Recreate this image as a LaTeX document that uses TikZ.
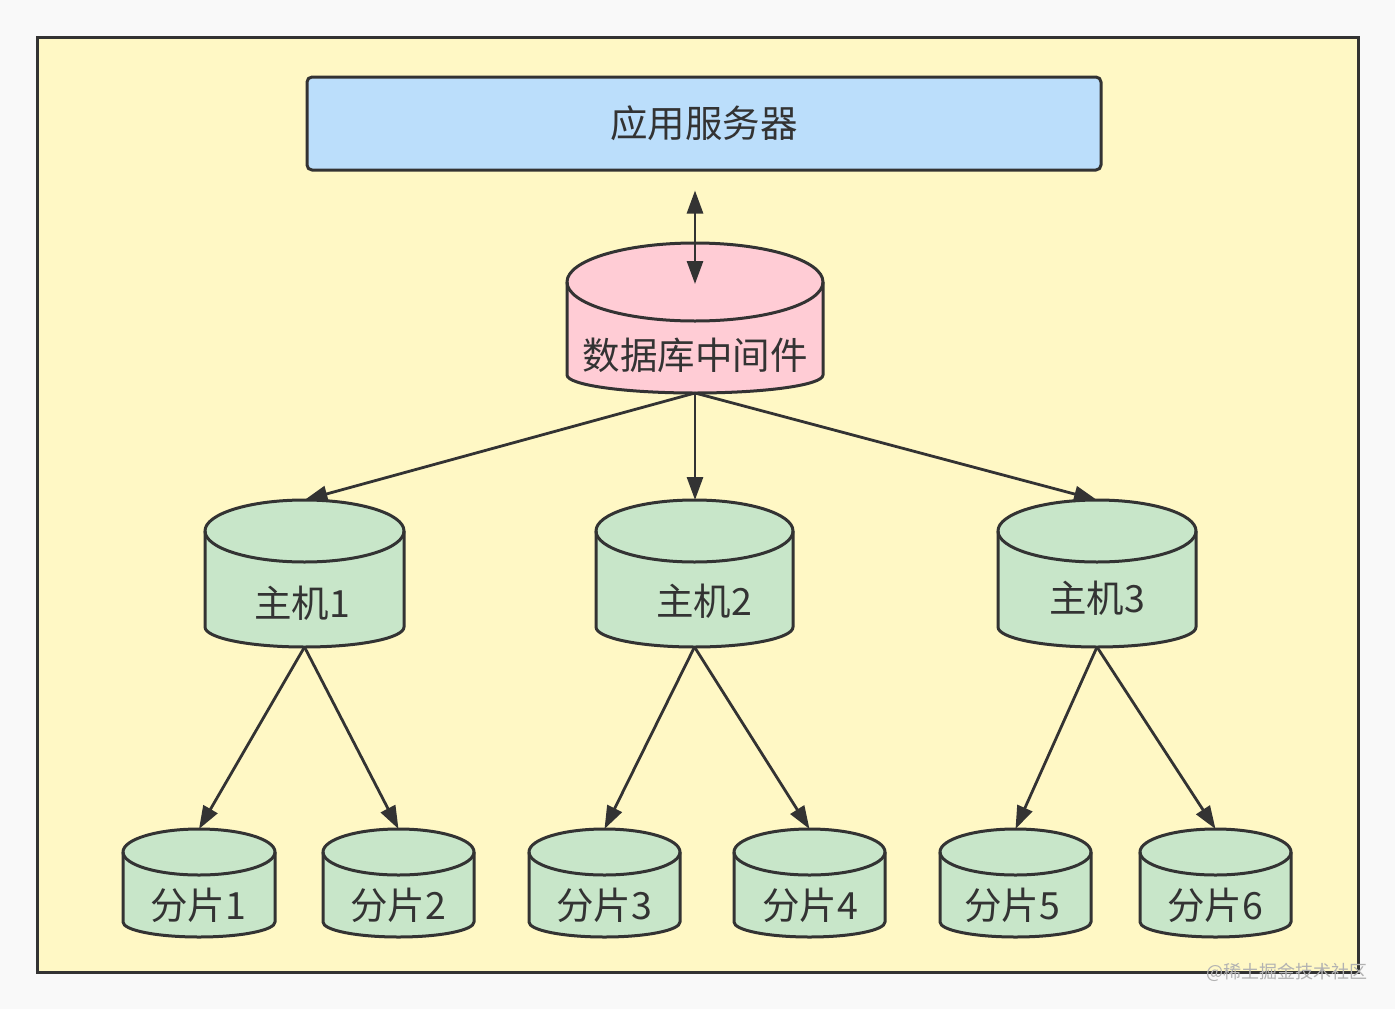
\documentclass[tikz,border=0pt]{standalone}
\usepackage{fontspec}
\setmainfont{Noto Sans CJK SC}
\usetikzlibrary{arrows.meta}
\definecolor{bgc}{HTML}{F9F9F9}
\definecolor{yel}{HTML}{FFF8C5}
\definecolor{blu}{HTML}{BBDEFB}
\definecolor{pnk}{HTML}{FFCCD5}
\definecolor{grn}{HTML}{C8E6C9}
\definecolor{ink}{HTML}{333333}
\tikzset{
  outline/.style={draw=ink, line width=3pt, line join=round},
  arr/.style={draw=ink, line width=2.8pt, -{Triangle[length=23pt,width=16pt]}},
  darr/.style={draw=ink, line width=2.8pt, {Triangle[length=23pt,width=16pt]}-{Triangle[length=23pt,width=16pt]}},
  lbl/.style={text=ink, font=\fontsize{37.5}{40}\selectfont, inner sep=0pt},
  wm/.style={text=black!30, font=\fontsize{18}{20}\selectfont, inner sep=0pt}
}
\newcommand{\dbcyl}[8]{%
  \pgfmathsetmacro\cxx{(#2+#3)/2}%
  \pgfmathsetmacro\rxx{(#3-#2)/2}%
  \pgfmathsetmacro\yct{#4+#6}%
  \pgfmathsetmacro\ycb{#5-#7}%
  \draw[outline, fill=#8] (#2,\yct) arc[start angle=180, end angle=0, x radius=\rxx pt, y radius=#6 pt]
     -- (#3,\ycb) arc[start angle=0, end angle=-180, x radius=\rxx pt, y radius=#7 pt] -- cycle;
  \draw[outline] (#2,\yct) arc[start angle=180, end angle=360, x radius=\rxx pt, y radius=#6 pt];
  \coordinate (#1t) at (\cxx,#4);
  \coordinate (#1b) at (\cxx,#5);
}
\begin{document}
\begin{tikzpicture}[x=1pt, y=-1pt]
\useasboundingbox (0,0) rectangle (1395,1009);
\fill[bgc] (0,0) rectangle (1395,1009);
\draw[outline, fill=yel, line join=miter] (37,37) rectangle (1358,972);
\node[outline, fill=blu, rounded corners=5pt, minimum width=794pt, minimum height=93pt, inner sep=0pt, lbl] (app) at (704,123.5) {应用服务器};

\dbcyl{mw}{567}{823}{243}{393}{39}{18}{pnk}
\node[lbl] (mwl) at (695,355) {数据库中间件};

\dbcyl{ha}{205}{404}{500}{647}{31}{20}{grn}
\dbcyl{hb}{596}{793}{500}{647}{31}{20}{grn}
\dbcyl{hc}{998}{1196}{500}{647}{31}{20}{grn}
\node[lbl] (hal) at (302,603) {主机1};
\node[lbl] (hbl) at (704,601) {主机2};
\node[lbl] (hcl) at (1097,598) {主机3};

\dbcyl{sa}{123}{275}{829}{937}{23}{15}{grn}
\dbcyl{sb}{323}{474}{829}{937}{23}{15}{grn}
\dbcyl{sc}{529}{680}{829}{937}{23}{15}{grn}
\dbcyl{sd}{734}{885}{829}{937}{23}{15}{grn}
\dbcyl{se}{940}{1091}{829}{937}{23}{15}{grn}
\dbcyl{sf}{1140}{1291}{829}{937}{23}{15}{grn}
\node[lbl] (sal) at (198,905) {分片1};
\node[lbl] (sbl) at (398,905) {分片2};
\node[lbl] (scl) at (604,905) {分片3};
\node[lbl] (sdl) at (810,905) {分片4};
\node[lbl] (sel) at (1012,905) {分片5};
\node[lbl] (sfl) at (1215,905) {分片6};

\coordinate (mwin) at (695,284);
\draw[darr] ([yshift=-19pt]app.south -| mwin) -- (mwin);

\draw[arr] (mwb) -- (hat);
\draw[arr] (mwb) -- (mwb |- hbt);
\draw[arr] (mwb) -- (hct);

\draw[arr] (hab) -- (sat);
\draw[arr] (hab) -- (sbt);
\draw[arr] (hbb) -- (sct);
\draw[arr] (hbb) -- (sdt);
\draw[arr] (hcb) -- (set);
\draw[arr] (hcb) -- (sft);

\node[wm, anchor=east] (wmk) at (1368,972) {@稀土掘金技术社区};
\end{tikzpicture}
\end{document}
